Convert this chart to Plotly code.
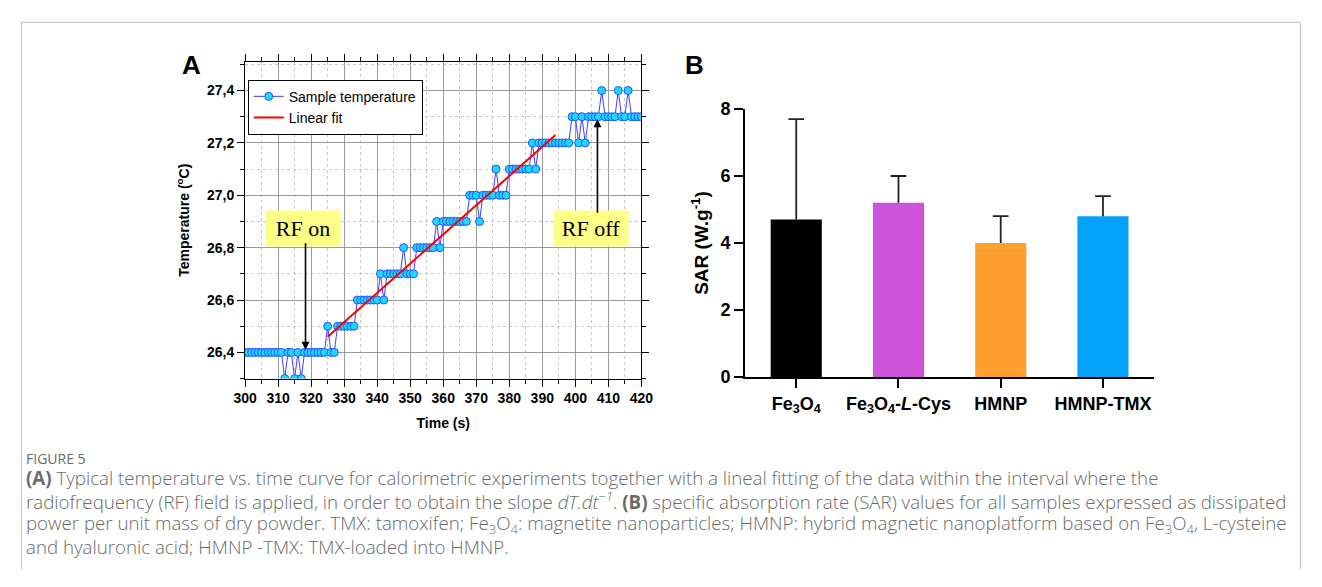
import plotly.graph_objects as go

# ---------------- Data ----------------
# Panel A: sample temperature (sampled every second)
time_s = list(range(300, 421))
temp_c = (
    [26.4] * 12 + [26.3, 26.4, 26.4, 26.3, 26.4, 26.3] + [26.4] * 7 +
    [26.5, 26.4, 26.4] + [26.5] * 6 +
    [26.6] * 7 + [26.7, 26.6] + [26.7] * 5 + [26.8] + [26.7] * 3 +
    [26.8] * 6 + [26.9, 26.8] + [26.9] * 8 +
    [27.0] * 3 + [26.9] + [27.0] * 4 + [27.1] + [27.0] * 3 +
    [27.1] * 7 + [27.2, 27.1] + [27.2] * 10 +
    [27.3, 27.3, 27.2, 27.3, 27.2] + [27.3] * 4 + [27.4] + [27.3] * 4 +
    [27.4] + [27.3] * 2 + [27.4] + [27.3] * 4
)
fit_time = [325, 394]
fit_temp = [26.46, 27.23]

rf_on_point = (318.3, 26.41)
rf_off_point = (406.7, 27.29)

# Panel B: SAR values
sar_labels = ["Fe<sub>3</sub>O<sub>4</sub>", "Fe<sub>3</sub>O<sub>4</sub>-<i>L</i>-Cys", "HMNP", "HMNP-TMX"]
sar_values = [4.7, 5.2, 4.0, 4.8]
sar_errors = [3.0, 0.8, 0.8, 0.6]
sar_colors = ["#000000", "#CF53DA", "#FF9F30", "#03A2F8"]

# The page keeps the browser's default 8px body margin, so the figure is sized to fit inside it
PAGE_W, PAGE_H, M = 1322, 587, 8
W, H = PAGE_W - 2 * M, PAGE_H - 2 * M


def px_x(p):
    return (p - M) / W


def px_y(p):
    return 1 - (p - M) / H


fig = go.Figure()

fig.add_trace(go.Scatter(
    x=time_s, y=temp_c, mode="lines+markers", name="Sample temperature",
    line=dict(color="#3F3FFF", width=1),
    marker=dict(size=8, color="#19D9FF", line=dict(color="#2F4FFF", width=1)),
    xaxis="x", yaxis="y",
))
fig.add_trace(go.Scatter(
    x=fit_time, y=fit_temp, mode="lines", name="Linear fit",
    line=dict(color="#FF0000", width=2), xaxis="x", yaxis="y",
))

cats = list(range(len(sar_values)))
fig.add_trace(go.Bar(
    x=cats, y=sar_values, marker=dict(color=sar_colors, line=dict(width=0)),
    xaxis="x2", yaxis="y2", showlegend=False,
))
# upper-only error bars with a cap at the top
err_x, err_y = [], []
cap_half = 0.077
for c, v, e in zip(cats, sar_values, sar_errors):
    err_x += [c, c, None, c - cap_half, c + cap_half, None]
    err_y += [v, v + e, None, v + e, v + e, None]
fig.add_trace(go.Scatter(
    x=err_x, y=err_y, mode="lines", line=dict(color="#222222", width=1.8),
    xaxis="x2", yaxis="y2", showlegend=False, hoverinfo="skip",
))

axis_font = dict(family="Liberation Sans, Arial", size=14, color="#000000", weight="bold")
b_font = dict(family="Liberation Sans, Arial", size=18, color="#000000", weight="bold")

fig.update_layout(
    width=W, height=H, margin=dict(l=0, r=0, t=0, b=0),
    paper_bgcolor="white", plot_bgcolor="white",
    separators=",.",
    xaxis=dict(
        domain=[px_x(237.3), px_x(641)], range=[300, 420], dtick=10, tick0=300,
        showline=True, linecolor="black", linewidth=1, mirror="allticks",
        ticks="outside", ticklen=7, tickwidth=1, tickcolor="black",
        showgrid=True, gridcolor="#9a9a9a", gridwidth=1, zeroline=False,
        minor=dict(dtick=5, ticks="outside", ticklen=4, tickcolor="black",
                   showgrid=True, gridcolor="#c8c8c8", griddash="dot", gridwidth=1),
        tickfont=axis_font,
        title=dict(text="Time (s)", font=axis_font, standoff=12),
        anchor="y",
    ),
    yaxis=dict(
        domain=[px_y(381.7), px_y(53.3)], range=[26.3, 27.51], dtick=0.2, tick0=26.4,
        tickformat=".1f",
        showline=True, linecolor="black", linewidth=1, mirror="allticks",
        ticks="outside", ticklen=7, tickwidth=1, tickcolor="black",
        showgrid=True, gridcolor="#9a9a9a", gridwidth=1, zeroline=False,
        minor=dict(dtick=0.1, ticks="outside", ticklen=4, tickcolor="black",
                   showgrid=True, gridcolor="#c8c8c8", griddash="dot", gridwidth=1),
        tickfont=axis_font,
        title=dict(text="Temperature (<sup>o</sup>C)", font=axis_font, standoff=14),
        anchor="x",
    ),
    xaxis2=dict(
        domain=[px_x(746.7), px_x(1163.3)], range=[-0.5, 3.5],
        tickmode="array", tickvals=cats, ticktext=sar_labels,
        showline=True, linecolor="black", linewidth=2,
        ticks="outside", ticklen=9, tickwidth=2, tickcolor="black",
        showgrid=False, zeroline=False,
        tickfont=b_font,
        anchor="y2",
    ),
    yaxis2=dict(
        domain=[px_y(380), px_y(102.3)], range=[0, 8], dtick=2,
        showline=True, linecolor="black", linewidth=2,
        ticks="outside", ticklen=9, tickwidth=2, tickcolor="black",
        showgrid=False, zeroline=False,
        tickfont=b_font,
        title=dict(text="SAR (W.g<sup>-1</sup>)", standoff=7,
                   font=dict(family="Liberation Sans, Arial", size=19, color="#000000", weight="bold")),
        anchor="x2",
    ),
    bargap=0.5,
    showlegend=True,
    legend=dict(
        x=px_x(240), y=px_y(72), xanchor="left", yanchor="top",
        bgcolor="white", bordercolor="black", borderwidth=1,
        font=dict(family="Liberation Sans, Arial", size=14, color="black"),
        itemwidth=30, tracegroupgap=0,
    ),
)

annotations = []
letter_font = dict(family="Liberation Sans, Arial", size=26, color="black")
annotations.append(dict(text="<b>A</b>", x=px_x(183), y=px_y(57), xref="paper", yref="paper",
                        xanchor="center", yanchor="middle", showarrow=False, font=letter_font))
annotations.append(dict(text="<b>B</b>", x=px_x(695), y=px_y(57), xref="paper", yref="paper",
                        xanchor="center", yanchor="middle", showarrow=False, font=letter_font))

box_font = dict(family="Liberation Serif, Times New Roman", size=22, color="black")
annotations.append(dict(text="RF on", x=px_x(296), y=px_y(226.5), xref="paper", yref="paper",
                        xanchor="center", yanchor="middle",
                        showarrow=False, bgcolor="#FFFF88", font=box_font, width=70, height=31, borderpad=2))
annotations.append(dict(text="RF off", x=px_x(589.5), y=px_y(226.5), xref="paper", yref="paper",
                        xanchor="center", yanchor="middle",
                        showarrow=False, bgcolor="#FFFF88", font=box_font, width=70, height=31, borderpad=2))
# arrows
annotations.append(dict(text="", x=rf_on_point[0], y=rf_on_point[1], xref="x", yref="y",
                        showarrow=True, ax=0, ay=-108, arrowhead=2, arrowsize=1, arrowwidth=1.6,
                        arrowcolor="black"))
annotations.append(dict(text="", x=rf_off_point[0], y=rf_off_point[1], xref="x", yref="y",
                        showarrow=True, ax=0, ay=95, arrowhead=2, arrowsize=1, arrowwidth=1.6,
                        arrowcolor="black"))

cap_font = dict(family="Open Sans, Noto Sans", size=18.7, color="#6a6a6a", weight=300)
annotations.append(dict(text="FIGURE 5", x=px_x(12), y=px_y(465), xref="paper", yref="paper",
                        xanchor="left", yanchor="middle", showarrow=False,
                        font=dict(family="Open Sans, Noto Sans", size=14, color="#6a6a6a")))
caption_lines = [
    "<b>(A)</b> Typical temperature vs. time curve for calorimetric experiments together with a lineal fitting of the data within the interval where the",
    "radiofrequency (RF) field is applied, in order to obtain the slope <i>dT.dt<sup>−1</sup></i>. <b>(B)</b> specific absorption rate (SAR) values for all samples expressed as dissipated",
    "power per unit mass of dry powder. TMX: tamoxifen; Fe<sub>3</sub>O<sub>4</sub>: magnetite nanoparticles; HMNP: hybrid magnetic nanoplatform based on Fe<sub>3</sub>O<sub>4</sub>, L-cysteine",
    "and hyaluronic acid; HMNP -TMX: TMX-loaded into HMNP.",
]
for i, line in enumerate(caption_lines):
    annotations.append(dict(text=line, x=px_x(12), y=px_y(484 + 24 * i), xref="paper", yref="paper",
                            xanchor="left", yanchor="middle", showarrow=False, font=cap_font))
fig.update_layout(annotations=annotations)

# page frame
frame = dict(color="#c0c0c0", width=1)
fig.add_shape(type="line", xref="paper", yref="paper", x0=px_x(9.5), x1=px_x(1312.5),
              y0=px_y(12.5), y1=px_y(12.5), line=frame)
fig.add_shape(type="line", xref="paper", yref="paper", x0=px_x(9.5), x1=px_x(9.5),
              y0=px_y(12.5), y1=0, line=frame)
fig.add_shape(type="line", xref="paper", yref="paper", x0=px_x(1312.5), x1=px_x(1312.5),
              y0=px_y(12.5), y1=0, line=frame)

fig.write_html("out.html", config={"displayModeBar": False})
